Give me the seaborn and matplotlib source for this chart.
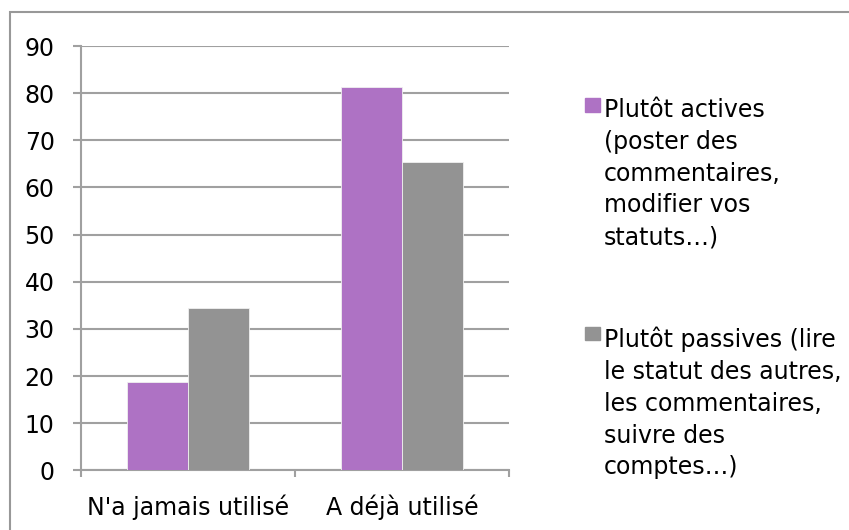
import pandas as pd
import matplotlib.pyplot as plt
from matplotlib.patches import Rectangle
import seaborn as sns

# data
categories = ["N'a jamais utilisé", "A déjà utilisé"]
series = ["Plutôt actives\n(poster des\ncommentaires,\nmodifier vos\nstatuts…)",
          "Plutôt passives (lire\nle statut des autres,\nles commentaires,\nsuivre des\ncomptes…)"]
actives = [18.7, 81.2]
passives = [34.4, 65.4]
yticks = [0, 10, 20, 30, 40, 50, 60, 70, 80, 90]

colors = ['#AE72C4', '#939393']
grid_col = '#A0A0A0'

df = pd.DataFrame({
    'usage': categories * 2,
    'serie': [series[0]] * 2 + [series[1]] * 2,
    'valeur': actives + passives,
})

sns.set_style('white')
plt.rcParams['font.family'] = ['DejaVu Sans']
plt.rcParams['text.color'] = 'black'
plt.rcParams['xtick.color'] = 'black'
plt.rcParams['ytick.color'] = 'black'

fig = plt.figure(figsize=(8.49, 5.30), dpi=100)
ax = fig.add_axes([0.0951, 0.1126, 0.5048, 0.8006])

sns.barplot(data=df, x='usage', y='valeur', hue='serie', hue_order=series,
            palette=colors, saturation=1, width=0.572, edgecolor='#F0F0F0',
            linewidth=0.6, ax=ax, zorder=3)

ax.set_ylim(0, 90)
ax.set_xlim(-0.5, 1.5)
ax.set_yticks(yticks)
ax.set_xlabel('')
ax.set_ylabel('')
ax.yaxis.grid(True, color=grid_col, linewidth=1.5)
ax.set_axisbelow(True)
for s in ['top', 'right']:
    ax.spines[s].set_visible(False)
for s in ['left', 'bottom']:
    ax.spines[s].set_color(grid_col)
    ax.spines[s].set_linewidth(1.5)

ax.tick_params(axis='y', length=5.8, width=1.5, color=grid_col, pad=13,
               labelsize=17, labelcolor='black', left=True)
ax.tick_params(axis='x', which='major', length=0, pad=17.5, labelsize=17,
               labelcolor='black')
ax.set_xticks([-0.5, 0.5, 1.5], minor=True)
ax.tick_params(axis='x', which='minor', length=5, width=1.5, color=grid_col,
               bottom=True)

ax.get_legend().remove()
handles = [Rectangle((0, 0), 1, 1, color=c) for c in colors]
leg = fig.legend(handles, series, loc='upper left', bbox_to_anchor=(0.689, 0.815),
                 frameon=False, fontsize=17, borderpad=0, borderaxespad=0,
                 handlelength=0.635, handleheight=0.5, handletextpad=0.17,
                 labelspacing=3.28)
for t in leg.get_texts():
    t.set_linespacing(1.41)
    t.set_color('black')
# square marker next to the first line of each entry
for col in leg._legend_handle_box.get_children():
    for row in col.get_children():
        row.align = 'top'

# chart frame (only its left and top edges fall inside the picture)
fig.patches.append(Rectangle((10 / 849, -0.2), 1.2, (1 - 12 / 530) + 0.2,
                             transform=fig.transFigure, fill=False,
                             edgecolor='#989898', linewidth=1.5))

plt.savefig('out.png', dpi=100)
plt.close()
